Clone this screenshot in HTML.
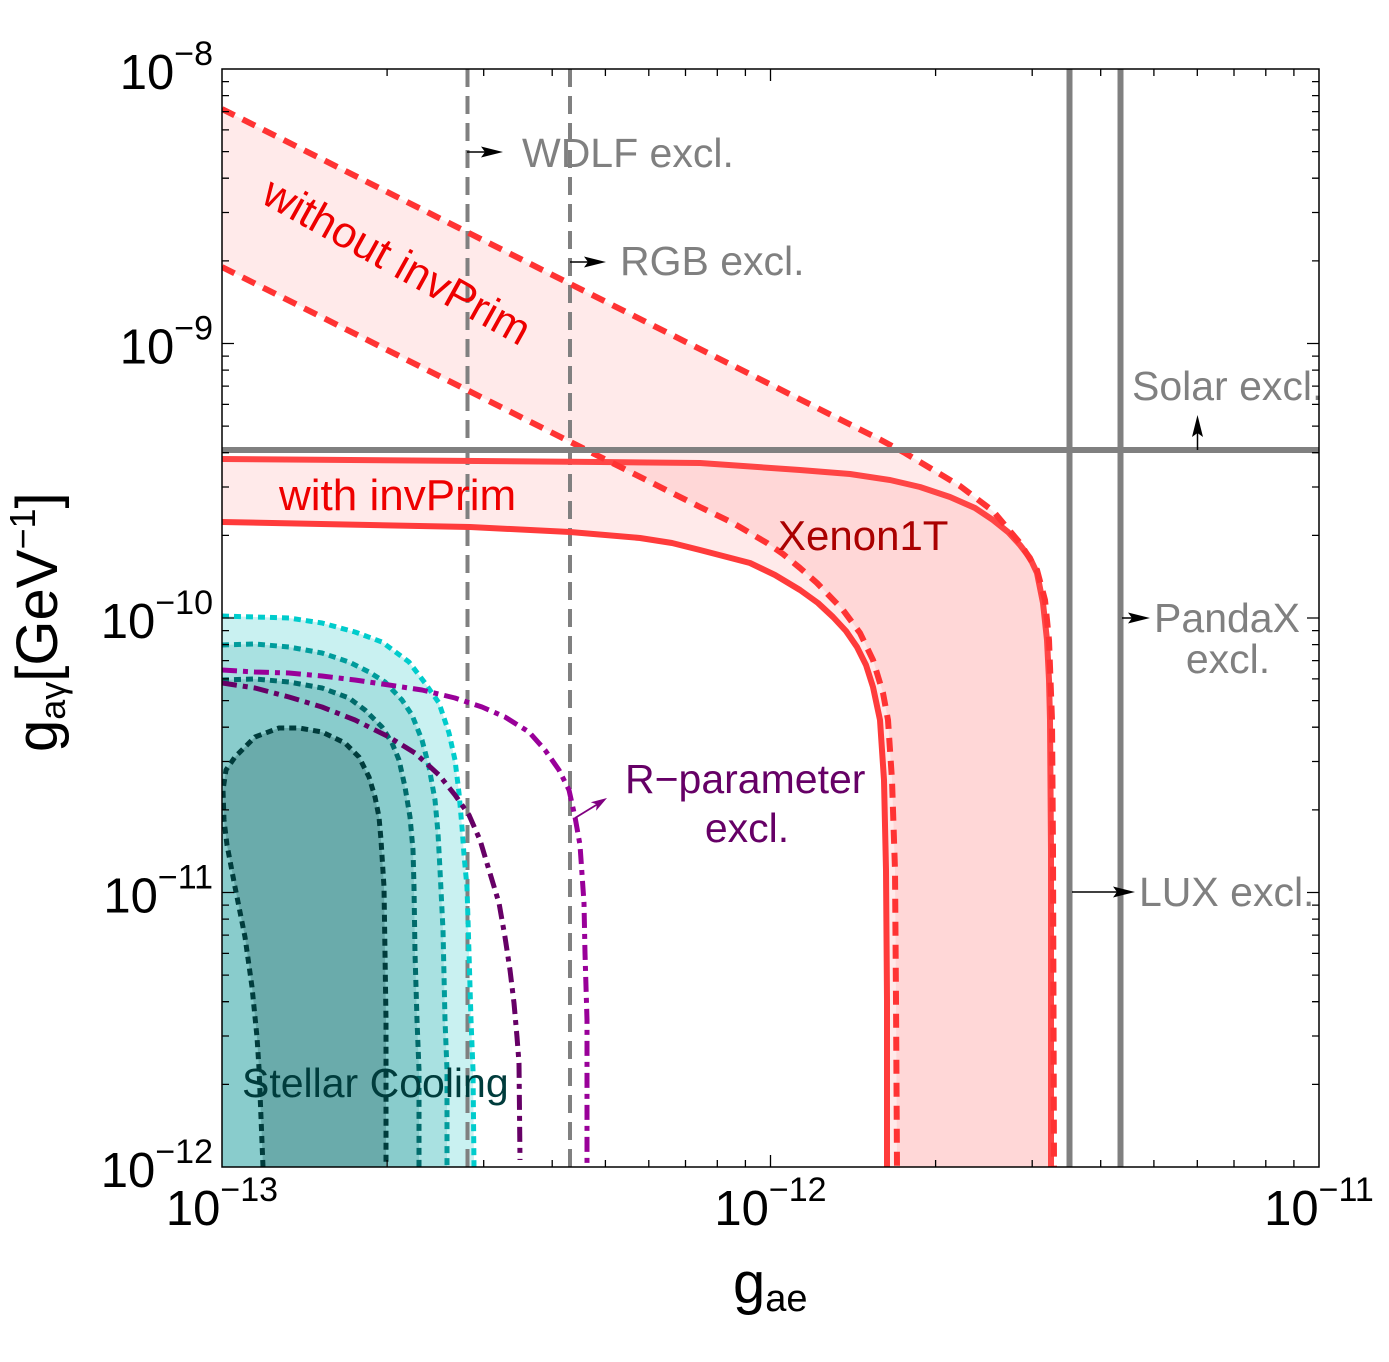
<!DOCTYPE html>
<html><head><meta charset="utf-8"><style>
html,body{margin:0;padding:0;background:#fff;}
svg{display:block;}
text{font-family:"Liberation Sans",Arial,sans-serif;}
</style></head><body>
<svg width="1389" height="1362" viewBox="0 0 1389 1362" xmlns="http://www.w3.org/2000/svg">
<defs><clipPath id="pa"><rect x="222" y="69" width="1097" height="1098"/></clipPath></defs>
<rect width="1389" height="1362" fill="#fff"/>
<g clip-path="url(#pa)">
<!-- red bands -->
<path d="M222,109 L880,439.5 L905,453 L930,468 L960,486 L993,511 L1020,543 L1037,570 L1045,600 L1049,640 L1052,720 L1053,850 L1054,1167 L897,1167 L896,1000 L895,870 L892,780 L888,720 L883,693 L873,660 L860,633 L843,610 L817,583 L800,568 L783,554 L767,543 L733,523 L700,507 L222,267 Z" fill="rgb(255,80,80)" fill-opacity="0.12"/>
<path d="M222,459 L600,462 L700,463 L800,470 L850,474 L890,480 L920,487 L950,497 L975,508 L993,520 L1008,532 L1020,545 L1030,558 L1037,573 L1043,603 L1047,640 L1049,680 L1050,720 L1051,850 L1051,1167 L887,1167 L887,1000 L886,870 L884,780 L880,720 L873,687 L866,665 L857,647 L846,631 L833,617 L818,603 L800,590 L775,575 L750,563 L700,550 L672,543 L640,538 L570,532 L470,527 L222,522 Z" fill="rgb(255,80,80)" fill-opacity="0.12"/>
<!-- teal fills -->
<path d="M222,616 L289,618 L322,623 L355,632 L382,642 L409,662 L425,683 L439,703 L449,733 L455,760 L459,793 L462,827 L464,855 L467,887 L469,953 L471,1020 L473,1070 L474,1167 L222,1167 Z" fill="#c9f1f1"/>
<path d="M222,645 L255,644 L289,647 L322,653 L349,662 L369,672 L385,682 L402,700 L412,715 L422,740 L429,767 L435,800 L438,833 L440,870 L443,930 L445,1020 L447,1070 L447,1167 L222,1167 Z" fill="#a9e1e1"/>
<path d="M222,680 L255,679 L289,682 L322,688 L349,698 L365,710 L382,727 L392,743 L399,760 L405,787 L410,817 L413,850 L414,887 L415,953 L417,1020 L419,1070 L419,1167 L222,1167 Z" fill="#89cccc"/>
<path d="M263,1167 L259,1068 L257,1037 L252,987 L245,937 L235,887 L227,845 L224,820 L223,790 L226,770 L235,757 L255,737 L279,728 L299,728 L322,732 L345,743 L359,757 L369,777 L375,797 L379,817 L381,840 L384,887 L385,953 L386,1020 L386,1068 L386,1167 Z" fill="#6aabab"/>
<!-- gray dashed verticals -->
<g stroke="#808080" stroke-width="4" stroke-dasharray="18 9" fill="none">
<path d="M467.5,69 V1167"/><path d="M570,69 V1167"/>
</g>
<!-- teal dotted lines -->
<g fill="none" stroke-width="5" stroke-dasharray="7 5" stroke-linejoin="round">
<path stroke="#00cccc" d="M222,616 L289,618 L322,623 L355,632 L382,642 L409,662 L425,683 L439,703 L449,733 L455,760 L459,793 L462,827 L464,855 L467,887 L469,953 L471,1020 L473,1070 L474,1167"/>
<path stroke="#009c9c" d="M222,645 L255,644 L289,647 L322,653 L349,662 L369,672 L385,682 L402,700 L412,715 L422,740 L429,767 L435,800 L438,833 L440,870 L443,930 L445,1020 L447,1070 L447,1167"/>
<path stroke="#006b6b" d="M222,680 L255,679 L289,682 L322,688 L349,698 L365,710 L382,727 L392,743 L399,760 L405,787 L410,817 L413,850 L414,887 L415,953 L417,1020 L419,1070 L419,1167"/>
<path stroke="#003c3c" d="M263,1167 L259,1068 L257,1037 L252,987 L245,937 L235,887 L227,845 L224,820 L223,790 L226,770 L235,757 L255,737 L279,728 L299,728 L322,732 L345,743 L359,757 L369,777 L375,797 L379,817 L381,840 L384,887 L385,953 L386,1020 L386,1068 L386,1167"/>
</g>
<!-- purple dash-dot -->
<g fill="none" stroke-width="5" stroke-dasharray="15 6 5 6" stroke-linejoin="round">
<path stroke="#990099" d="M222,670 L255,672 L289,673 L322,676 L355,680 L389,685 L422,690 L455,698 L482,707 L505,717 L529,732 L545,750 L559,770 L569,790 L575,817 L580,845 L584,903 L585,953 L587,1020 L587,1167"/>
<path stroke="#660066" d="M222,683 L255,688 L289,697 L322,707 L355,720 L389,737 L415,753 L439,775 L455,795 L469,815 L480,840 L489,870 L499,903 L505,937 L510,970 L514,1003 L517,1037 L519,1063 L520,1160"/>
</g>
<!-- red lines -->
<g fill="none" stroke-linejoin="round">
<path stroke="#ff4545" stroke-width="6" d="M222,459 L600,462 L700,463 L800,470 L850,474 L890,480 L920,487 L950,497 L975,508 L993,520 L1008,532 L1020,545 L1030,558 L1037,573 L1043,603 L1047,640 L1049,680 L1050,720 L1051,850 L1051,1167"/>
<path stroke="#ff3b3b" stroke-width="6" d="M222,522 L470,527 L570,532 L640,538 L672,543 L700,550 L750,563 L775,575 L800,590 L818,603 L833,617 L846,631 L857,647 L866,665 L873,687 L880,720 L884,780 L886,870 L887,1000 L887,1167"/>
<path stroke="#ff3333" stroke-width="6" stroke-dasharray="14 9" d="M222,109 L880,439.5 L905,453 L930,468 L960,486 L993,511 L1020,543 L1037,570 L1045,600 L1049,640 L1052,720 L1053,850 L1054,1167"/>
<path stroke="#ff3333" stroke-width="6" stroke-dasharray="14 9" d="M222,267 L700,507 L733,523 L767,543 L783,554 L800,568 L817,583 L843,610 L860,633 L873,660 L883,693 L888,720 L892,780 L895,870 L896,1000 L897,1167"/>
</g>
<!-- gray thick lines -->
<g stroke="#808080" stroke-width="6" fill="none">
<path d="M222,450 H1319"/><path d="M1069.5,66 V1167"/><path d="M1120.5,66 V1167"/>
</g>
</g>
<!-- arrows -->
<g stroke="#000" stroke-width="1.5" fill="none">
<path d="M467,152 H486"/><path d="M570,262 H589"/><path d="M1197.5,450 V433"/><path d="M1122,618 H1133"/><path d="M1072,892 H1117"/>
</g>
<g fill="#000">
<polygon points="503,152 481,146.5 485,152 481,157.5"/>
<polygon points="606,262 584,256.5 588,262 584,267.5"/>
<polygon points="1197.5,415 1192,437 1197.5,433 1203,437"/>
<polygon points="1150,618 1128,612.5 1132,618 1128,623.5"/>
<polygon points="1135,892 1113,886.5 1117,892 1113,897.5"/>
</g>
<path d="M575,818 L597,804.5" stroke="#800080" stroke-width="1.8" fill="none"/>
<polygon points="607,798 596.1,810.7 596.8,804.4 590.8,802.3" fill="#800080"/>
<!-- labels -->
<g font-size="41" fill="#808080">
<text x="522" y="167">WDLF excl.</text>
<text x="620" y="275">RGB excl.</text>
<text x="1132" y="400">Solar excl.</text>
<text x="1227" y="632" text-anchor="middle">PandaX</text>
<text x="1228" y="673" text-anchor="middle">excl.</text>
<text x="1139" y="906">LUX excl.</text>
</g>
<g font-size="41" fill="#660066">
<text x="625" y="793">R−parameter</text>
<text x="747" y="842" text-anchor="middle">excl.</text>
</g>
<text x="778" y="550" font-size="42" fill="#aa0000">Xenon1T</text>
<text x="279" y="510" font-size="44" fill="#ee0000">with invPrim</text>
<text transform="translate(397,261) rotate(29)" x="0" y="15" text-anchor="middle" font-size="44" fill="#ee0000">without invPrim</text>
<text x="242" y="1097" font-size="41" fill="#003c3c">Stellar Cooling</text>
<!-- frame -->
<rect x="222" y="69" width="1097" height="1098" fill="none" stroke="#000" stroke-width="1.5"/>
<!-- ticks -->
<g stroke="#000" stroke-width="1.3" fill="none">
<path d="M222,343.5h12M222,618h12M222,892.5h12M1319,343.5h-12M1319,618h-12M1319,892.5h-12M770.5,1167v-12M770.5,69v12"/>
<path d="M222,260.9h7M222,212.5h7M222,178.2h7M222,151.6h7M222,129.9h7M222,111.6h7M222,95.6h7M222,81.6h7
M222,535.4h7M222,487h7M222,452.7h7M222,426.1h7M222,404.4h7M222,386.1h7M222,370.1h7M222,356.1h7
M222,809.9h7M222,761.5h7M222,727.2h7M222,700.6h7M222,678.9h7M222,660.6h7M222,644.6h7M222,630.6h7
M222,1084.4h7M222,1036h7M222,1001.7h7M222,975.1h7M222,953.4h7M222,935.1h7M222,919.1h7M222,905.1h7"/>
<path d="M1319,260.9h-7M1319,212.5h-7M1319,178.2h-7M1319,151.6h-7M1319,129.9h-7M1319,111.6h-7M1319,95.6h-7M1319,81.6h-7
M1319,535.4h-7M1319,487h-7M1319,452.7h-7M1319,426.1h-7M1319,404.4h-7M1319,386.1h-7M1319,370.1h-7M1319,356.1h-7
M1319,809.9h-7M1319,761.5h-7M1319,727.2h-7M1319,700.6h-7M1319,678.9h-7M1319,660.6h-7M1319,644.6h-7M1319,630.6h-7
M1319,1084.4h-7M1319,1036h-7M1319,1001.7h-7M1319,975.1h-7M1319,953.4h-7M1319,935.1h-7M1319,919.1h-7M1319,905.1h-7"/>
<path d="M387.1,1167v-7M483.7,1167v-7M552.2,1167v-7M605.4,1167v-7M648.8,1167v-7M685.5,1167v-7M717.3,1167v-7M745.4,1167v-7
M935.6,1167v-7M1032.2,1167v-7M1100.7,1167v-7M1153.9,1167v-7M1197.3,1167v-7M1234,1167v-7M1265.8,1167v-7M1293.9,1167v-7"/>
<path d="M387.1,69v7M483.7,69v7M552.2,69v7M605.4,69v7M648.8,69v7M685.5,69v7M717.3,69v7M745.4,69v7
M935.6,69v7M1032.2,69v7M1100.7,69v7M1153.9,69v7M1197.3,69v7M1234,69v7M1265.8,69v7M1293.9,69v7"/>
</g>
<!-- tick labels -->
<g font-size="49" fill="#000">
<text x="213" y="89" text-anchor="end">10<tspan font-size="34" dy="-24">−8</tspan></text>
<text x="213" y="363.5" text-anchor="end">10<tspan font-size="34" dy="-24">−9</tspan></text>
<text x="213" y="638" text-anchor="end">10<tspan font-size="34" dy="-24">−10</tspan></text>
<text x="213" y="912.5" text-anchor="end">10<tspan font-size="34" dy="-24">−11</tspan></text>
<text x="213" y="1187" text-anchor="end">10<tspan font-size="34" dy="-24">−12</tspan></text>
<text x="222" y="1225" text-anchor="middle">10<tspan font-size="34" dy="-24">−13</tspan></text>
<text x="770.5" y="1225" text-anchor="middle">10<tspan font-size="34" dy="-24">−12</tspan></text>
<text x="1319" y="1225" text-anchor="middle">10<tspan font-size="34" dy="-24">−11</tspan></text>
</g>
<!-- axis titles -->
<text x="733" y="1303" font-size="58" fill="#000">g<tspan font-size="38" dy="8">ae</tspan></text>
<text transform="translate(57,752) rotate(-90)" x="0" y="0" font-size="58" fill="#000">g<tspan font-size="36" dy="8">aγ</tspan><tspan dy="-8">[GeV</tspan><tspan font-size="36" dy="-22">−1</tspan><tspan dy="22">]</tspan></text>
</svg>
</body></html>
